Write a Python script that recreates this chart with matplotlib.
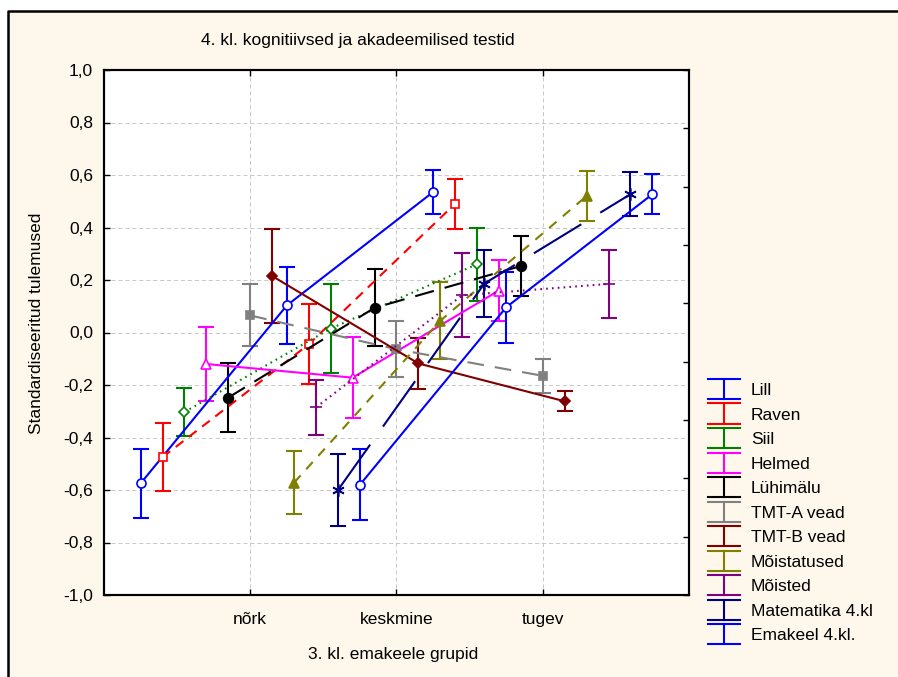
import matplotlib
matplotlib.use('Agg')
import matplotlib.pyplot as plt
import numpy as np
from matplotlib.legend_handler import HandlerBase
from matplotlib.lines import Line2D
from matplotlib.patches import Rectangle

plt.rcParams['font.family'] = ['Liberation Sans', 'DejaVu Sans']
plt.rcParams['lines.scale_dashes'] = False

# ---------------------------------------------------------------------------
# Data (group means and error bar half-widths)
# ---------------------------------------------------------------------------

groups = ['nõrk', 'keskmine', 'tugev']
names = ['Lill', 'Raven', 'Siil', 'Helmed', 'Lühimälu', 'TMT-A vead',
         'TMT-B vead', 'Mõistatused', 'Mõisted', 'Matematika 4.kl',
         'Emakeel 4.kl.']

lill = [-0.575, 0.103, 0.535]
raven = [-0.475, -0.045, 0.490]
siil = [-0.303, 0.015, 0.260]
helmed = [-0.120, -0.172, 0.160]
luhimalu = [-0.248, 0.094, 0.253]
tmt_a = [0.065, -0.064, -0.165]
tmt_b = [0.215, -0.118, -0.262]
moistatused = [-0.572, 0.045, 0.520]
moisted = [-0.285, 0.142, 0.185]
matemaatika = [-0.600, 0.186, 0.527]
emakeel = [-0.580, 0.096, 0.527]

lill_err = [0.133, 0.147, 0.083]
raven_err = [0.130, 0.152, 0.096]
siil_err = [0.093, 0.168, 0.140]
helmed_err = [0.142, 0.155, 0.115]
luhimalu_err = [0.130, 0.147, 0.115]
tmt_a_err = [0.118, 0.106, 0.065]
tmt_b_err = [0.178, 0.097, 0.038]
moistatused_err = [0.120, 0.147, 0.095]
moisted_err = [0.105, 0.161, 0.130]
matemaatika_err = [0.136, 0.127, 0.085]
emakeel_err = [0.135, 0.135, 0.077]

means = [lill, raven, siil, helmed, luhimalu, tmt_a, tmt_b,
         moistatused, moisted, matemaatika, emakeel]
errs = [lill_err, raven_err, siil_err, helmed_err, luhimalu_err, tmt_a_err,
        tmt_b_err, moistatused_err, moisted_err, matemaatika_err, emakeel_err]

# color, linestyle, marker, marker face, marker size
STYLES = [
    ('#0000ff', '-', 'o', 'white', 6.5),
    ('#ff0000', (0, (7, 5)), 's', 'white', 6),
    ('#008000', (0, (1.2, 3)), 'D', 'white', 5),
    ('#ff00ff', '-', '^', 'white', 6.5),
    ('#000000', (0, (14, 8)), 'o', '#000000', 7),
    ('#808080', (0, (12, 8)), 's', '#808080', 6),
    ('#800000', '-', 'D', '#800000', 5),
    ('#808000', (0, (7, 6)), '^', '#808000', 7),
    ('#800080', (0, (1.2, 3)), '+', '#800080', 9),
    ('#000080', (0, (40, 16)), (6, 2, 0), '#000080', 9),
    ('#0000ff', '-', 'o', 'white', 6.5),
]

FS = 12.5


class ErrHandler(HandlerBase):
    """Statistica-like legend key: line + marker + error bar with wide caps."""

    def create_artists(self, legend, orig, xd, yd, w, h, fs, trans):
        cy = h / 2 - yd
        x0, x1 = -xd, -xd + w
        xm = (x0 + x1) / 2
        hv = 7.3
        c = orig.get_color()
        ln = Line2D([x0, x1], [cy, cy])
        ln.update_from(orig)
        ln.set_marker('None')
        vb = Line2D([xm, xm], [cy - hv, cy + hv], color=c, lw=1.5)
        cap1 = Line2D([x0, x1], [cy + hv, cy + hv], color=c, lw=1.5)
        cap2 = Line2D([x0, x1], [cy - hv, cy - hv], color=c, lw=1.5)
        mk = Line2D([xm], [cy])
        mk.update_from(orig)
        mk.set_linestyle('None')
        arts = [ln, vb, cap1, cap2, mk]
        for a in arts:
            a.set_transform(trans)
        return arts


W, H = 898, 677
fig = plt.figure(figsize=(W / 100, H / 100), dpi=100)
fig.patch.set_facecolor('white')
fig.patches.append(Rectangle((8 / W, 0), 1, 1 - 10.5 / H, transform=fig.transFigure,
                             facecolor='#fef8ec', edgecolor='none', zorder=-10))
fig.lines.append(Line2D([8 / W, 8 / W, 1], [0, 1 - 10.5 / H, 1 - 10.5 / H],
                        transform=fig.transFigure, color='black', lw=1.8))

ax = fig.add_axes([104 / W, 1 - 595 / H, (689 - 104) / W, (595 - 70) / H])
ax.set_facecolor('white')

xc = np.arange(1, len(groups) + 1)
offsets = np.linspace(-0.75, 0.75, len(names))

handles = []
for i, (name, m, e) in enumerate(zip(names, means, errs)):
    color, ls, marker, mfc, ms = STYLES[i]
    x = xc + offsets[i]
    ax.errorbar(x, m, yerr=e, fmt='none', ecolor=color, elinewidth=1.5,
                capsize=5.5, capthick=1.5, zorder=3)
    line, = ax.plot(x, m, color=color, linestyle=ls, lw=1.5, marker=marker,
                    mfc=mfc, mec=color, ms=ms, mew=1.2, label=name, zorder=4)
    handles.append(line)

ax.set_xlim(0, 4)
ax.set_ylim(-1, 1)
ax.set_xticks(xc)
ax.set_xticklabels(groups)
yt = np.round(np.arange(-1.0, 1.01, 0.2), 1)
ax.set_yticks(yt)
ax.set_yticklabels([f'{(v if v != 0 else 0.0):.1f}'.replace('.', ',') for v in yt])
ax.tick_params(direction='in', length=4, width=1, labelsize=FS, top=True)
ax.tick_params(axis='x', pad=12)
ax.tick_params(axis='y', pad=8)
ax.grid(True, color='#c8c8c8', linestyle=(0, (3, 2)), lw=0.7)
ax.set_axisbelow(True)
for s in ax.spines.values():
    s.set_linewidth(1.5)

# unlabeled ticks on the right spine
ax2 = ax.twinx()
ax2.set_ylim(-1, 1)
ax2.set_yticks(np.linspace(-1, 1, 10))
ax2.tick_params(direction='in', length=4, width=1, labelright=False)
for s in ax2.spines.values():
    s.set_linewidth(1.5)

fig.text(358 / W, 1 - 40 / H, '4. kl. kognitiivsed ja akadeemilised testid',
         ha='center', va='center', fontsize=FS)
fig.text(393 / W, 1 - 655 / H, '3. kl. emakeele grupid',
         ha='center', va='center', fontsize=FS)
fig.text(37 / W, 1 - 323 / H, 'Standardiseeritud tulemused', rotation=90,
         ha='center', va='center', fontsize=FS)

fig.legend(handles, names, loc='upper left', bbox_to_anchor=(708 / W, 1 - 383 / H),
           frameon=False, handler_map={Line2D: ErrHandler()}, fontsize=FS,
           handlelength=1.84, handleheight=0.7, handletextpad=0.63,
           labelspacing=0.54, borderpad=0, borderaxespad=0)

fig.savefig('out.png', dpi=100, facecolor=fig.get_facecolor())
